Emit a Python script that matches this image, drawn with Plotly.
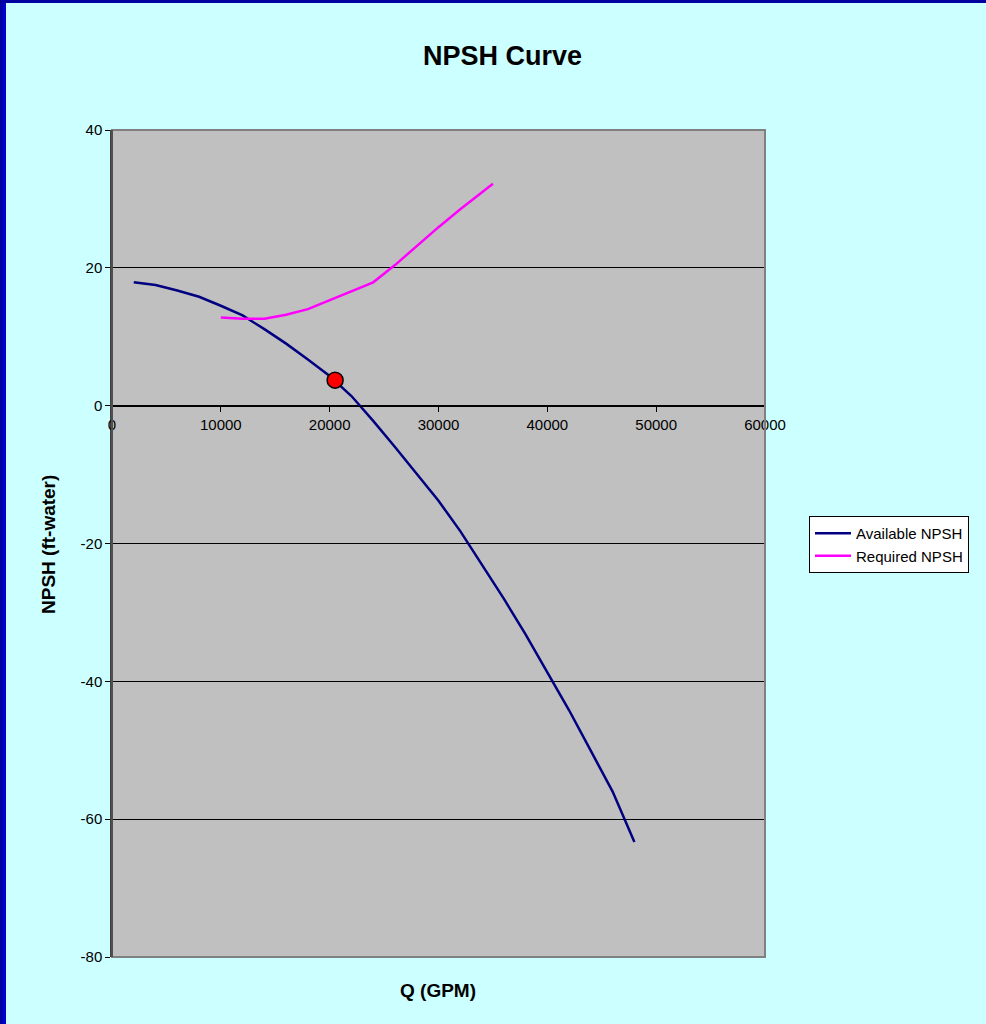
import plotly.graph_objects as go

# ---- data ----
avail_q = [2000, 4000, 6000, 8000, 10000, 12000, 14000, 16000, 18000, 20000, 22000,
           24000, 26000, 28000, 30000, 32000, 34000, 36000, 38000, 40000, 42000,
           44000, 46000, 48000]
avail_npsh = [17.9, 17.5, 16.7, 15.8, 14.5, 13.1, 11.1, 9.0, 6.7, 4.3, 1.4,
              -2.2, -6.0, -9.9, -13.8, -18.2, -23.0, -28.0, -33.2, -38.6, -44.2,
              -50.1, -56.0, -63.3]
req_q = [10000, 12000, 14000, 16000, 18000, 20000, 22000, 24000, 26000, 28000,
         30000, 32000, 35000]
req_npsh = [12.8, 12.6, 12.6, 13.2, 14.0, 15.3, 16.6, 17.9, 20.4, 23.2, 25.9, 28.5, 32.2]
op_q = [20500]
op_npsh = [3.7]

x_ticks = [0, 10000, 20000, 30000, 40000, 50000, 60000]
y_ticks = [-80, -60, -40, -20, 0, 20, 40]

FONT = "Arial, Liberation Sans, sans-serif"

fig = go.Figure()
fig.add_trace(go.Scatter(x=avail_q, y=avail_npsh, mode="lines", name="Available NPSH",
                         line=dict(color="#000080", width=2.5)))
fig.add_trace(go.Scatter(x=req_q, y=req_npsh, mode="lines", name="Required NPSH",
                         line=dict(color="#FF00FF", width=2.5)))
fig.add_trace(go.Scatter(x=op_q, y=op_npsh, mode="markers", showlegend=False,
                         marker=dict(color="#FF0000", size=16,
                                     line=dict(color="#000000", width=1.5))))

L, R, T, B = 112, 221, 130, 67
W, H = 986, 1024
pw, ph = W - L - R, H - T - B

def px(x):
    return (x - L) / pw

def py(y):
    return (H - B - y) / ph

fig.update_layout(
    width=W, height=H,
    margin=dict(l=L, r=R, t=T, b=B, pad=0),
    paper_bgcolor="#CCFFFF",
    plot_bgcolor="#C0C0C0",
    font=dict(family=FONT, size=15, color="#000000"),
    showlegend=True,
    legend=dict(x=px(809), y=py(516), xanchor="left", yanchor="top",
                bgcolor="#FFFFFF", bordercolor="#000000", borderwidth=1,
                font=dict(family=FONT, size=15), tracegroupgap=0, itemwidth=36),
    xaxis=dict(range=[0, 60000], tickvals=x_ticks, ticktext=[str(v) for v in x_ticks],
               anchor="free", position=(0 - (-80)) / 120,
               showline=True, linecolor="#000000", linewidth=1,
               ticks="outside", ticklen=5, tickcolor="#000000",
               showgrid=False, zeroline=False,
               tickfont=dict(family=FONT, size=15)),
    yaxis=dict(range=[-80, 40], tickvals=y_ticks, ticktext=[str(v) for v in y_ticks],
               showline=True, linecolor="#404040", linewidth=1.5,
               ticks="outside", ticklen=5, tickcolor="#000000",
               showgrid=True, gridcolor="#000000", gridwidth=1,
               zeroline=False, tickfont=dict(family=FONT, size=15)),
)

shapes = [
    # gray plot border
    dict(type="rect", xref="paper", yref="paper", x0=0, x1=1, y0=0, y1=1,
         line=dict(color="#808080", width=2), fillcolor="rgba(0,0,0,0)", layer="above"),
    # left axis line again on top
    dict(type="line", xref="paper", yref="paper", x0=0, x1=0, y0=0, y1=1,
         line=dict(color="#404040", width=1.5), layer="above"),
    # dark blue frame (left and top)
    dict(type="rect", xref="paper", yref="paper", x0=px(0), x1=px(3), y0=py(1024), y1=py(0),
         line=dict(width=0), fillcolor="#0000A0", layer="above"),
    dict(type="rect", xref="paper", yref="paper", x0=px(3), x1=px(6), y0=py(1024), y1=py(3),
         line=dict(width=0), fillcolor="#0000D0", layer="above"),
    dict(type="rect", xref="paper", yref="paper", x0=px(0), x1=px(986), y0=py(3), y1=py(0),
         line=dict(width=0), fillcolor="#0000A0", layer="above"),
]
fig.update_layout(shapes=shapes)

fig.add_annotation(text="<b>NPSH Curve</b>", xref="paper", yref="paper",
                   x=px(502), y=py(56), showarrow=False,
                   font=dict(family=FONT, size=27), xanchor="center", yanchor="middle")
fig.add_annotation(text="<b>Q (GPM)</b>", xref="paper", yref="paper",
                   x=px(438), y=py(990), showarrow=False,
                   font=dict(family=FONT, size=19), xanchor="center", yanchor="middle")
fig.add_annotation(text="<b>NPSH (ft-water)</b>", xref="paper", yref="paper",
                   x=px(48), y=py(545), showarrow=False, textangle=-90,
                   font=dict(family=FONT, size=19), xanchor="center", yanchor="middle")

fig.write_html("out.html")
